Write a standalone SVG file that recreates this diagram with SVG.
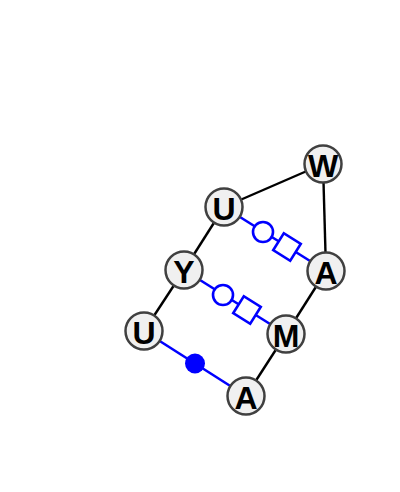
<svg xmlns="http://www.w3.org/2000/svg" width="400" height="492" viewBox="0 0 400 492">
<style>
.e{stroke:#000;stroke-width:2.4;fill:none}
.b{stroke:#0000ff;stroke-width:2.6;fill:none}
.oc{stroke:#0000ff;stroke-width:2.6;fill:#fff}
.fc{fill:#0000ff;stroke:none}
.n circle{fill:#f0f0f0;stroke:#404040;stroke-width:2.5}
.n text{font-family:"Liberation Sans",Arial,sans-serif;font-weight:bold;font-size:32px;text-anchor:middle;fill:#000}
</style>
<rect width="400" height="492" fill="#fff"/>
<g id="connectors">
<line class="e" x1="323" y1="164" x2="224" y2="207"/>
<line class="e" x1="323" y1="164" x2="326" y2="271"/>
<line class="e" x1="224" y1="207" x2="184" y2="270"/>
<line class="e" x1="184" y1="270" x2="144" y2="331"/>
<line class="e" x1="326" y1="271" x2="286" y2="334"/>
<line class="e" x1="286" y1="334" x2="246" y2="396"/>
<line class="b" x1="224" y1="207" x2="326" y2="271"/>
<circle class="oc" cx="263" cy="232" r="10"/>
<rect class="oc" x="-10" y="-10" width="20" height="20" transform="translate(287,247) rotate(32)"/>
<line class="b" x1="184" y1="270" x2="286" y2="334"/>
<circle class="oc" cx="223" cy="295" r="10"/>
<rect class="oc" x="-10" y="-10" width="20" height="20" transform="translate(247,310) rotate(32)"/>
<line class="b" x1="144" y1="331" x2="246" y2="396"/>
<circle class="fc" cx="195" cy="363.5" r="10"/>
</g>
<g id="n1" class="n"><circle cx="323" cy="164" r="18.5"/><text x="323" y="177">W</text></g>
<g id="n2" class="n"><circle cx="224" cy="207" r="18.5"/><text x="224" y="220">U</text></g>
<g id="n3" class="n"><circle cx="326" cy="271" r="18.5"/><text x="326" y="284">A</text></g>
<g id="n4" class="n"><circle cx="184" cy="270" r="18.5"/><text x="184" y="283">Y</text></g>
<g id="n5" class="n"><circle cx="286" cy="334" r="18.5"/><text x="286" y="347">M</text></g>
<g id="n6" class="n"><circle cx="144" cy="331" r="18.5"/><text x="144" y="344">U</text></g>
<g id="n7" class="n"><circle cx="246" cy="396" r="18.5"/><text x="246" y="409">A</text></g>
</svg>
